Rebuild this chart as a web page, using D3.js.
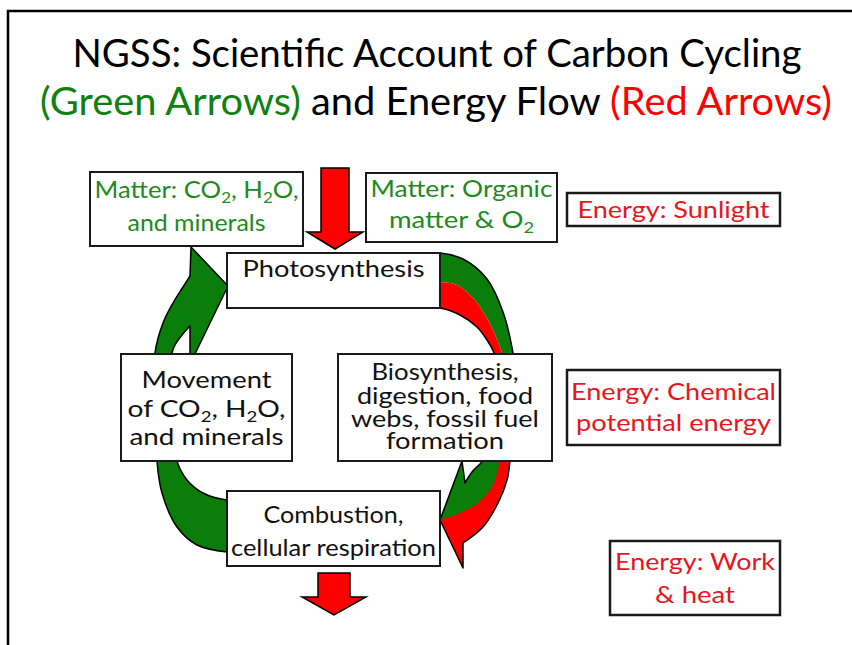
<!DOCTYPE html>
<html>
<head>
<meta charset="utf-8">
<script src="https://cdn.jsdelivr.net/npm/d3@7"></script>
<style>
  html, body { margin: 0; padding: 0; background: #fff; }
  text { font-family: Lato, "Open Sans", sans-serif; }
</style>
</head>
<body>
<div id="chart"></div>
<script>
var WIDTH = 852, HEIGHT = 645;
var GREEN = "#0a7d0a", RED = "#ff0000";
var TXT_GREEN = "#1e8a1e", TXT_RED = "#e8161c";

// text content of the diagram
var titleLine1 = ["NGSS: Scientific Account of Carbon Cycling"];
var titleLine2 = ["(Green Arrows)", " and Energy Flow ", "(Red Arrows)"];
var titleLine2Colors = ["green", "black", "red"];

var matterInLines = ["Matter: CO_2, H_2O,", "and minerals"];
var matterOutLines = ["Matter: Organic", "matter & O_2"];
var sunLines = ["Energy: Sunlight"];
var chemLines = ["Energy: Chemical", "potential energy"];
var workLines = ["Energy: Work", "& heat"];

var photoLines = ["Photosynthesis"];
var movementLines = ["Movement", "of CO_2, H_2O,", "and minerals"];
var bioLines = ["Biosynthesis,", "digestion, food", "webs, fossil fuel", "formation"];
var combustLines = ["Combustion,", "cellular respiration"];

// layout (pixel positions)
var boxes = [
  {lines: matterInLines, x: 90, y: 172, w: 213, h: 74, color: TXT_GREEN, size: 23, base: [198, 231], len: [204, 138]},
  {lines: matterOutLines, x: 366, y: 173, w: 191, h: 69, color: TXT_GREEN, size: 23, base: [197, 228], len: [182, 145]},
  {lines: sunLines, x: 567, y: 193, w: 213, h: 33, color: TXT_RED, size: 24, base: [218], len: [192], sw: 2.5},
  {lines: chemLines, x: 567, y: 370, w: 213, h: 75, color: TXT_RED, size: 24, base: [400, 431], len: [205, 195], sw: 2.5},
  {lines: workLines, x: 610, y: 541, w: 170, h: 74, color: TXT_RED, size: 24, base: [570, 603], len: [160, 80], sw: 2.5},
  {lines: photoLines, x: 227, y: 253, w: 213, h: 55, color: "#111", size: 23, base: [277], len: [182]},
  {lines: movementLines, x: 121, y: 354, w: 171, h: 107, color: "#111", size: 24, base: [388, 417, 445], len: [130, 158, 154]},
  {lines: bioLines, x: 338, y: 354, w: 214, h: 107, color: "#111", size: 23.5, base: [380, 404, 427, 449], len: [147, 176, 188, 118]},
  {lines: combustLines, x: 227, y: 491, w: 213, h: 75, color: "#111", size: 24, base: [523, 556], len: [140, 205]}
];

var svg = d3.select("#chart").append("svg")
  .attr("width", WIDTH)
  .attr("height", HEIGHT);

// frame
svg.append("path")
  .attr("d", "M8,645 L8,11 L852,11")
  .attr("fill", "none")
  .attr("stroke", "#000")
  .attr("stroke-width", 2.5);

// title
svg.append("text")
  .attr("x", 437).attr("y", 67)
  .attr("text-anchor", "middle")
  .attr("font-size", 38)
  .attr("textLength", 729).attr("lengthAdjust", "spacingAndGlyphs")
  .text(titleLine1[0]);

var t2 = svg.append("text")
  .attr("x", 436).attr("y", 115)
  .attr("text-anchor", "middle")
  .attr("font-size", 38)
  .attr("textLength", 792).attr("lengthAdjust", "spacingAndGlyphs");
titleLine2.forEach(function(s, i){
  t2.append("tspan")
    .attr("fill", titleLine2Colors[i] == "green" ? "#118011" : (titleLine2Colors[i] == "red" ? RED : "#000"))
    .style("white-space", "pre")
    .text(s);
});

// path helpers
function seg(pts, curved){
  var g = d3.line().curve(curved ? d3.curveCatmullRom.alpha(0.5) : d3.curveLinear);
  return g(pts).replace(/^M/, "L");
}
function shape(parts){
  var s = parts.map(function(p){ return seg(p[0], p[1]); }).join("");
  return "M" + s.slice(1) + "Z";
}
function rev(a){ return a.slice().reverse(); }

var arrows = svg.append("g").attr("class", "arrows");

// upper-left green arrow into Photosynthesis
var ulOuter = [[155,362],[155,353],[163,323],[173,303],[183,287],[190,276]];
var ulHead = [[190,276],[191,247],[228,286],[193,358],[190,358],[190,326]];
var ulNotch = [[190,326],[182,335],[175,345],[172,353],[172,362]];
arrows.append("path")
  .attr("d", shape([[ulOuter, true], [ulHead, false], [ulNotch, true]]))
  .attr("fill", GREEN).attr("stroke", "#000").attr("stroke-width", 1.5)
  .attr("stroke-linejoin", "round");

// lower-left green band (tail)
var llOuter = [[157,455],[157,461],[162,493],[177,527],[197,545],[227,552],[233,552]];
var llInner = [[177,455],[177,461],[187,480],[203,493],[227,500],[233,500]];
arrows.append("path")
  .attr("d", shape([[llOuter, true], [rev(llInner), true]]))
  .attr("fill", GREEN).attr("stroke", "#000").attr("stroke-width", 1.5);

// upper-right band (green outside, red inside)
var urOuter = [[434,253],[440,253],[463,259],[487,279],[503,312],[513,353],[514,362]];
var urMid = [[434,282],[440,282],[457,285],[473,298],[488,320],[502,353],[503,362]];
var urInner = [[434,308],[440,308],[460,315],[477,327],[487,340],[494,353],[495,362]];
arrows.append("path")
  .attr("d", shape([[urOuter, true], [rev(urMid), true]]))
  .attr("fill", GREEN);
arrows.append("path")
  .attr("d", shape([[urMid, true], [rev(urInner), true]]))
  .attr("fill", RED);
arrows.append("path")
  .attr("d", shape([[urOuter, true], [rev(urInner), true]]))
  .attr("fill", "none").attr("stroke", "#000").attr("stroke-width", 1.5);

// lower-right arrow into Combustion
var lrHead = [[440,520],[462,461],[465,483]];
var lrInner = [[465,483],[472,472],[480,464],[486,457],[487,453]];
var lrOuter = [[511,453],[510,461],[507,480],[498,503],[483,527],[463,543]];
var lrMid = [[501,453],[500,461],[492,487],[478,503],[460,513],[440,520]];
arrows.append("path")
  .attr("d", shape([[lrHead, false], [lrInner, true], [lrOuter, true], [[[463,543],[463,568],[440,520]], false]]))
  .attr("fill", RED);
arrows.append("path")
  .attr("d", shape([[lrHead, false], [lrInner, true], [lrMid, true]]))
  .attr("fill", GREEN);
arrows.append("path")
  .attr("d", shape([[lrHead, false], [lrInner, true], [lrOuter, true], [[[463,543],[463,568],[440,520]], false]]))
  .attr("fill", "none").attr("stroke", "#000").attr("stroke-width", 1.5)
  .attr("stroke-linejoin", "round");

// straight red energy arrows (sunlight in, work & heat out)
var downArrows = [
  {x: 335, top: 168, shaft: 14, head: 28, neck: 232, tip: 249},
  {x: 334, top: 573, shaft: 16, head: 32, neck: 597, tip: 615}
];
arrows.selectAll(".down").data(downArrows).enter().append("path")
  .attr("class", "down")
  .attr("d", function(d){
    return d3.line()([
      [d.x - d.shaft, d.top], [d.x + d.shaft, d.top], [d.x + d.shaft, d.neck],
      [d.x + d.head, d.neck], [d.x, d.tip], [d.x - d.head, d.neck], [d.x - d.shaft, d.neck]
    ]) + "Z";
  })
  .attr("fill", RED).attr("stroke", "#000").attr("stroke-width", 1.5);

// boxes
var g = svg.selectAll(".box").data(boxes).enter().append("g").attr("class", "box");
g.append("rect")
  .attr("x", function(d){ return d.x; })
  .attr("y", function(d){ return d.y; })
  .attr("width", function(d){ return d.w; })
  .attr("height", function(d){ return d.h; })
  .attr("fill", "#fff")
  .attr("stroke", "#1a1a1a")
  .attr("stroke-width", function(d){ return d.sw || 2; });

g.each(function(d){
  var box = d3.select(this);
  d.lines.forEach(function(line, i){
    var t = box.append("text")
      .attr("x", d.x + d.w / 2)
      .attr("y", d.base[i])
      .attr("text-anchor", "middle")
      .attr("font-size", d.size)
      .attr("fill", d.color)
      .attr("textLength", d.len[i])
      .attr("lengthAdjust", "spacingAndGlyphs");
    // "_2" marks a subscript digit
    var parts = line.split(/_(\d)/);
    var shift = 0;
    parts.forEach(function(p, j){
      if (!p) return;
      var sp = t.append("tspan").style("white-space", "pre").text(p);
      if (j % 2 == 1) {
        sp.attr("font-size", d.size * 0.66).attr("dy", 5 - shift);
        shift = 5;
      } else if (shift) {
        sp.attr("dy", -shift);
        shift = 0;
      }
    });
  });
});
</script>
</body>
</html>
